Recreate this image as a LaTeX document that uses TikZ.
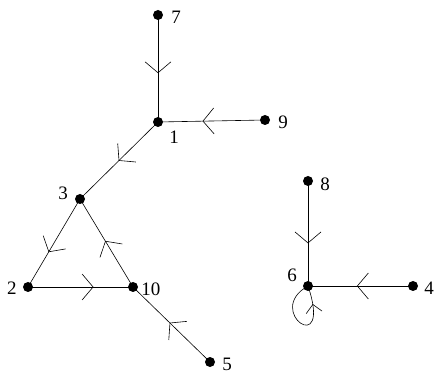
\documentclass[tikz,border=0pt]{standalone}
\usepackage{fontspec}
\setmainfont{Liberation Serif}
\usetikzlibrary{decorations.markings}

\tikzset{
  vtx/.style={circle,fill=black,inner sep=0pt,minimum size=10pt},
  lbl/.style={font=\fontsize{19}{22}\selectfont,inner sep=1pt},
  midarrow/.style={postaction={decorate},
    decoration={markings,mark=at position #1 with {\draw (-11pt,13pt) -- (0,0) -- (-11pt,-13pt);}}},
  midarrow/.default=0.55
}

\begin{document}
\begin{tikzpicture}[x=1pt,y=-1pt,line width=0.6pt]
        \useasboundingbox (0,0) rectangle (434,374);

        % left graph
        \node[vtx] (n7) at (158,15) {};
        \node[vtx] (n1) at (158,122) {};
        \node[vtx] (n9) at (265,120) {};
        \node[vtx] (n3) at (80,199) {};
        \node[vtx] (n2) at (28,287) {};
        \node[vtx] (n10) at (133,287) {};
        \node[vtx] (n5) at (210,362) {};

        % right graph
        \node[vtx] (n8) at (308,181) {};
        \node[vtx] (n6) at (308,286) {};
        \node[vtx] (n4) at (413,286) {};

        % labels
        \node[lbl,right] at (170,17) {7};
        \node[lbl] at (174,137) {1};
        \node[lbl,right] at (277,122) {9};
        \node[lbl] at (63,193) {3};
        \node[lbl,left] at (18,288) {2};
        \node[lbl,right] at (140,289) {10};
        \node[lbl,right] at (221,364) {5};
        \node[lbl,right] at (319,184) {8};
        \node[lbl] at (292,275) {6};
        \node[lbl,right] at (423,288) {4};

        % edges
        \draw[midarrow=0.54] (n7.center) -- (n1.center);
        \draw[midarrow=0.58] (n9.center) -- (n1.center);
        \draw[midarrow=0.5] (n1.center) -- (n3.center);
        \draw[midarrow=0.6] (n3.center) -- (n2.center);
        \draw[midarrow=0.62] (n2.center) -- (n10.center);
        \draw[midarrow=0.52] (n10.center) -- (n3.center);
        \draw[midarrow=0.52] (n5.center) -- (n10.center);
        \draw[midarrow=0.59] (n8.center) -- (n6.center);
        \draw[midarrow=0.53] (n4.center) -- (n6.center);

        % loop
        \draw[postaction={decorate},decoration={markings,mark=at position 0.8 with {\draw (-8pt,8pt) -- (0,0) -- (-8pt,-8pt);}}]
          (n6.center) .. controls +(-45,25) and +(25,74) .. (n6.center);
    \end{tikzpicture}
\end{document}
